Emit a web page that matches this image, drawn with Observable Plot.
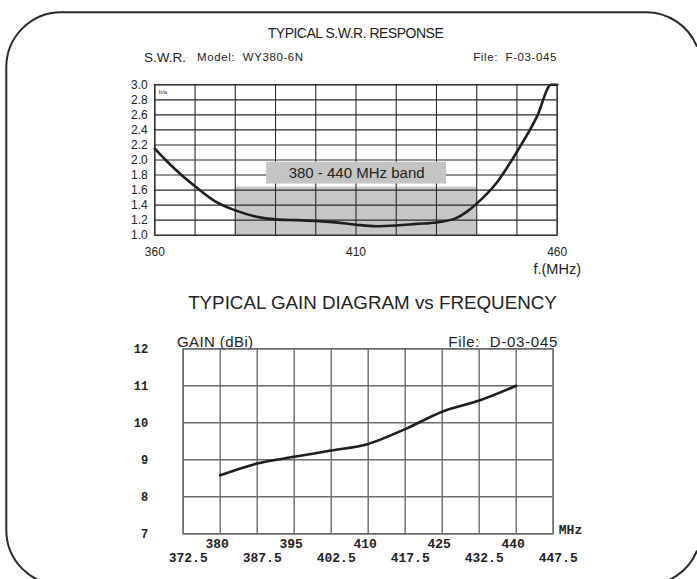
<!DOCTYPE html>
<html>
<head>
<meta charset="utf-8">
<script src="https://cdn.jsdelivr.net/npm/d3@7"></script>
<script src="https://cdn.jsdelivr.net/npm/@observablehq/plot@0.6"></script>
<style>
  html, body { margin: 0; padding: 0; background: #fff; overflow: hidden; }
  #page { position: relative; width: 697px; height: 579px; overflow: hidden; background: #fff;
          font-family: "Liberation Sans", Arial, sans-serif; color: #222; }
  .t { position: absolute; white-space: nowrap; line-height: 1; }
  #border { position: absolute; left: 0; top: 0; pointer-events: none; }
  .plot { position: absolute; left: 0; }
</style>
</head>
<body>
<div id="page">
  <svg id="border" width="697" height="579" viewBox="0 0 697 579"><path d="M 697 550.6 A 55 55 0 0 1 646 585 L 61.3 585 A 55 55 0 0 1 6.3 530 L 6.3 67.3 A 55 55 0 0 1 61.3 12.3 L 646 12.3 A 55 55 0 0 1 697 46.7" fill="none" stroke="#2a2a2a" stroke-width="2"/></svg>
  <div class="t" style="left:0;width:697px;text-align:center;top:26px;font-size:14px;letter-spacing:-0.5px;">
    <span style="position:relative;left:7px;">TYPICAL S.W.R. RESPONSE</span></div>
  <div class="t" style="left:144px;top:50.5px;font-size:13.5px;">S.W.R.</div>
  <div class="t" style="left:197px;top:52px;font-size:11.5px;letter-spacing:0.6px;">Model:&nbsp; WY380-6N</div>
  <div class="t" style="right:140px;top:52px;font-size:11.5px;letter-spacing:0.6px;">File:&nbsp; F-03-045</div>
  <div class="t" style="right:116px;top:261.5px;font-size:14.5px;">f.(MHz)</div>
  <div class="t" style="left:0;width:697px;text-align:center;top:293.5px;font-size:18.8px;">
    <span style="position:relative;left:24px;">TYPICAL GAIN DIAGRAM vs FREQUENCY</span></div>
  <div class="t" style="left:177px;top:334px;font-size:15px;letter-spacing:0.4px;">GAIN (dBi)</div>
  <div class="t" style="right:139px;top:334px;font-size:15px;letter-spacing:0.7px;">File:&nbsp; D-03-045</div>
  <div id="swr" class="plot" style="top:0;"></div>
  <div id="gain" class="plot" style="top:280px;"></div>
</div>
<script>
// ---------- S.W.R. chart data ----------
const swrFreq = [360, 362.5, 365, 367.5, 370, 375, 380, 385, 390, 395, 400, 405, 410, 415, 420, 425, 430, 435, 437.5, 440, 445, 450, 455, 458.5, 460];
const swrValues = [2.15, 2.01, 1.88, 1.76, 1.65, 1.45, 1.33, 1.25, 1.21, 1.20, 1.19, 1.17, 1.14, 1.12, 1.13, 1.15, 1.17, 1.23, 1.31, 1.42, 1.70, 2.11, 2.58, 3.0, 3.0];
const swrXTicks = [360, 410, 460];
const swrYTicks = [1.0, 1.2, 1.4, 1.6, 1.8, 2.0, 2.2, 2.4, 2.6, 2.8, 3.0];
const swrGridX = [360, 370, 380, 390, 400, 410, 420, 430, 440, 450, 460];
const bandRange = [380, 440];          // MHz
const bandLevel = [1.0, 1.64];         // SWR
const bandLabelText = "380 - 440 MHz band";
const bandLabelFreq = [387.8, 432.5];
const bandLabelSwr = [1.68, 1.97];

// ---------- Gain chart data ----------
const gainFreq = [380, 387.5, 395, 402.5, 410, 417.5, 425, 432.5, 440];
const gainValues = [8.58, 8.9, 9.08, 9.25, 9.43, 9.83, 10.3, 10.6, 11.0];
const gainXTicksTop = [380, 395, 410, 425, 440];
const gainXTicksBottom = [372.5, 387.5, 402.5, 417.5, 432.5, 447.5];
const gainGridX = [372.5, 380, 387.5, 395, 402.5, 410, 417.5, 425, 432.5, 440, 447.5];
const gainYTicks = [7, 8, 9, 10, 11, 12];

const swrData = swrFreq.map((f, i) => ({f, swr: swrValues[i]}));
const gainData = gainFreq.map((f, i) => ({f, gain: gainValues[i]}));

const swrPlot = Plot.plot({
  width: 697, height: 280,
  marginLeft: 154.3, marginRight: 140.3, marginTop: 84.3, marginBottom: 45.3,
  style: {fontFamily: "Liberation Sans, Arial, sans-serif", fontSize: "12px", color: "#222", background: "transparent"},
  x: {domain: [360, 460], ticks: swrXTicks, tickFormat: d => String(d), tickSize: 0, tickPadding: 12.5, label: null},
  y: {domain: [1, 3], ticks: swrYTicks, tickFormat: d => d.toFixed(1), tickSize: 0, tickPadding: 7, label: null},
  marks: [
    Plot.rect([{}], {x1: bandRange[0], x2: bandRange[1], y1: bandLevel[0], y2: bandLevel[1], fill: "#c6c6c6"}),
    Plot.ruleX(swrGridX, {stroke: "#2a2a2a", strokeWidth: 1.1}),
    Plot.ruleY(swrYTicks, {stroke: "#2a2a2a", strokeWidth: 1.1}),
    Plot.rect([{}], {x1: bandLabelFreq[0], x2: bandLabelFreq[1], y1: bandLabelSwr[0], y2: bandLabelSwr[1], fill: "#c4c4c4"}),
    Plot.text([bandLabelText], {x: (bandLabelFreq[0] + bandLabelFreq[1]) / 2, y: (bandLabelSwr[0] + bandLabelSwr[1]) / 2,
      text: d => d, fontSize: 15, fill: "#222"}),
    Plot.text(["b/a"], {frameAnchor: "top-left", dx: 4, dy: 5, text: d => d, fontSize: 6, textAnchor: "start", fill: "#333"}),
    Plot.line(swrData, {x: "f", y: "swr", curve: "monotone-x", stroke: "#1e1e1e", strokeWidth: 2.6}),
    Plot.frame({stroke: "#2a2a2a", strokeWidth: 1.2})
  ]
});
document.getElementById("swr").appendChild(swrPlot);

const gainPlot = Plot.plot({
  width: 697, height: 299,
  marginLeft: 182.7, marginRight: 144.3, marginTop: 68.3, marginBottom: 45.7,
  style: {fontFamily: "Liberation Mono, Courier New, monospace", fontWeight: "bold", fontSize: "12px", color: "#222", background: "transparent"},
  x: {domain: [372.5, 447.5], axis: null},
  y: {domain: [7, 12], ticks: gainYTicks, tickFormat: d => String(d), tickSize: 0, tickPadding: 35, label: null},
  marks: [
    Plot.ruleX(gainGridX, {stroke: "#6a6a6a", strokeWidth: 1.4}),
    Plot.ruleY(gainYTicks, {stroke: "#6a6a6a", strokeWidth: 1.4}),
    Plot.text(gainXTicksTop, {x: d => d, frameAnchor: "bottom", dy: 14.5, dx: -3, text: d => String(d), fontSize: 13, fill: "#222"}),
    Plot.text(gainXTicksBottom, {x: d => d, frameAnchor: "bottom", dy: 28, dx: 5, text: d => d.toFixed(1), fontSize: 13, fill: "#222"}),
    Plot.text(["MHz"], {frameAnchor: "bottom-right", dx: 5.6, dy: 0, textAnchor: "start", text: d => d, fontSize: 13, fill: "#222"}),
    Plot.line(gainData, {x: "f", y: "gain", curve: "catmull-rom", stroke: "#1e1e1e", strokeWidth: 2.6}),
    Plot.frame({stroke: "#6a6a6a", strokeWidth: 1.4})
  ]
});
document.getElementById("gain").appendChild(gainPlot);
</script>
</body>
</html>
